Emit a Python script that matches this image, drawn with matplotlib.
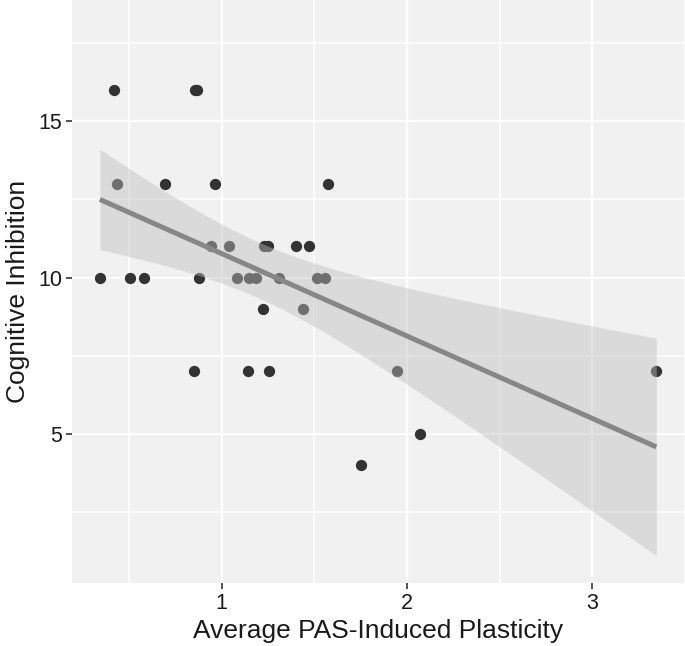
import numpy as np
from matplotlib import pyplot as plt

plasticity = [0.342, 0.42, 0.434, 0.506, 0.58, 0.693, 0.855, 0.865, 0.851, 0.876,
              0.94, 0.964, 1.04, 1.08, 1.14, 1.147, 1.183, 1.22, 1.228, 1.25,
              1.257, 1.311, 1.40, 1.44, 1.47, 1.516, 1.557, 1.575, 1.753, 1.943,
              2.067, 3.345]
inhibition = [10, 16, 13, 10, 10, 13, 16, 16, 7, 10,
              11, 13, 11, 10, 7, 10, 10, 9, 11, 11,
              7, 10, 11, 9, 11, 10, 10, 13, 4, 7,
              5, 7]

x_ticks = [1, 2, 3]
y_ticks = [5, 10, 15]

plt.rcParams['font.family'] = ['Liberation Sans', 'DejaVu Sans']

x = np.array(plasticity)
y = np.array(inhibition, dtype=float)
n = len(x)
slope, intercept = np.polyfit(x, y, 1)
resid = y - (slope * x + intercept)
s = np.sqrt(np.sum(resid ** 2) / (n - 2))
sxx = np.sum((x - x.mean()) ** 2)
t_crit = 2.042  # 95% t quantile, ~30 df

xs = np.linspace(x.min(), x.max(), 80)
fit = slope * xs + intercept
se = s * np.sqrt(1 / n + (xs - x.mean()) ** 2 / sxx)

fig = plt.figure(figsize=(6.85, 6.46), dpi=100)
ax = fig.add_axes([0.105, 0.0975, 0.895, 0.9025])
ax.set_facecolor('#f1f1f1')

ax.scatter(x, y, s=66, color='#333333', zorder=3, linewidths=0)
ax.fill_between(xs, fit - t_crit * se, fit + t_crit * se, color='#bebebe', alpha=0.44,
                linewidth=0, zorder=4)
ax.plot(xs, fit, color='#878787', linewidth=3.6, zorder=5, solid_capstyle='butt')

ax.set_xlim(0.191, 3.496)
ax.set_ylim(0.24, 18.87)
ax.set_xticks(x_ticks)
ax.set_yticks(y_ticks)
ax.set_xticks([0.5, 1.5, 2.5, 3.5], minor=True)
ax.set_yticks([2.5, 7.5, 12.5, 17.5], minor=True)
ax.grid(True, which='major', color='white', linewidth=1.6, zorder=0)
ax.grid(True, which='minor', color='white', linewidth=1.1, zorder=0)
ax.set_axisbelow(True)
for sp in ax.spines.values():
    sp.set_visible(False)

ax.tick_params(which='major', length=4, width=1.2, color='#333333',
               labelsize=15.5, labelcolor='#1a1a1a', pad=3)
ax.tick_params(which='minor', length=0)

ax.set_xlabel('Average PAS-Induced Plasticity', fontsize=19, color='#1a1a1a', labelpad=4)
ax.set_ylabel('Cognitive Inhibition', fontsize=19, color='#1a1a1a', labelpad=6)

fig.savefig('out.png', dpi=100)
